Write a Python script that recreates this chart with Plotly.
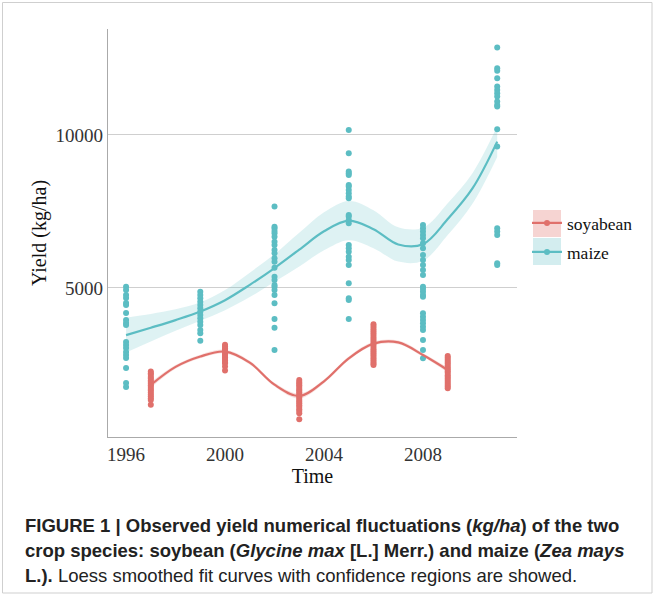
import plotly.graph_objects as go

# ---------------- data ----------------
maize_years = [1996, 1999, 2002, 2005, 2008, 2011]
maize_values = [
    [5042, 4935, 4771, 4673, 4510, 4444, 4183, 3954, 3856, 3791, 3235, 3137, 3039, 2908, 2810, 2712, 2386, 1895, 1765],
    [4879, 4771, 4663, 4552, 4444, 4337, 4226, 4118, 4010, 3899, 3791, 3627, 3519, 3278],
    [7657, 7003, 6951, 6863, 6788, 6676, 6513, 6405, 6242, 6134, 5971, 5859, 5663, 5369, 5261, 5098, 5042, 4935, 4771, 4500, 3987, 3703, 2974],
    [10163, 9402, 8801, 8748, 8693, 8366, 8311, 8203, 8095, 7984, 7931, 7386, 7330, 7222, 7114, 6405, 6297, 6186, 6023, 5915, 5752, 5154, 4663, 4608, 3987],
    [7059, 6951, 6840, 6732, 6624, 6461, 6297, 6078, 5915, 5752, 5588, 5425, 5042, 4967, 4879, 4771, 4716, 4173, 4062, 3954, 3846, 3735, 3627, 3301, 2974, 2703],
    [12853, 12180, 12092, 11853, 11578, 11471, 11363, 11252, 11088, 10980, 10925, 10186, 9618, 6951, 6840, 6732, 5807, 5750],
]
soy_years = [1997, 2000, 2003, 2006, 2009]
soy_values = [
    [2270, 2210, 2160, 2090, 2040, 1980, 1930, 1870, 1820, 1760, 1700, 1650, 1580, 1520, 1460, 1400, 1340, 1180],
    [3140, 3090, 3030, 2980, 2930, 2880, 2830, 2780, 2730, 2680, 2630, 2570, 2540, 2430, 2300],
    [1990, 1930, 1880, 1820, 1760, 1700, 1650, 1590, 1530, 1470, 1410, 1350, 1290, 1230, 1170, 1110, 1040, 980, 910, 710],
    [3810, 3740, 3670, 3600, 3540, 3470, 3400, 3330, 3270, 3200, 3140, 3070, 3000, 2930, 2870, 2800, 2730, 2660, 2600, 2530, 2480],
    [2780, 2720, 2650, 2590, 2530, 2470, 2400, 2340, 2280, 2220, 2150, 2090, 2030, 1970, 1900, 1840, 1780, 1720],
]

# loess fit curves and confidence bands
maize_fit_x = [1996, 1997, 1998, 1999, 2000, 2001, 2002, 2003, 2004, 2005, 2006, 2007, 2008, 2009, 2010, 2011]
maize_fit = [3460, 3700, 3950, 4230, 4600, 5100, 5650, 6250, 6850, 7200, 6920, 6420, 6430, 7250, 8250, 9780]
maize_hi = [4030, 4150, 4300, 4530, 4930, 5500, 6100, 6800, 7470, 7840, 7540, 6980, 6970, 7770, 8750, 10280]
maize_lo = [2890, 3250, 3600, 3930, 4270, 4700, 5200, 5700, 6230, 6560, 6300, 5860, 5890, 6730, 7750, 9280]

soy_fit_x = [1997, 1998, 1999, 2000, 2001, 2002, 2003, 2004, 2005, 2006, 2007, 2008, 2009]
soy_fit = [1830, 2420, 2760, 2920, 2560, 1840, 1470, 1950, 2700, 3180, 3220, 2810, 2320]
soy_hi = [1920, 2480, 2820, 2980, 2620, 1900, 1550, 2010, 2760, 3240, 3280, 2870, 2400]
soy_lo = [1740, 2360, 2700, 2860, 2500, 1780, 1390, 1890, 2640, 3120, 3160, 2750, 2240]

x_ticks = [1996, 2000, 2004, 2008]
y_ticks = [5000, 10000]
y_tick_labels = ["5000", "10000"]

SOY = "#E0706B"
MAIZE = "#5CBDC3"
SOY_BAND = "rgba(224,112,107,0.22)"
MAIZE_BAND = "rgba(92,189,195,0.20)"

fig = go.Figure()


def add_band(xs, lo, hi, color):
    fig.add_trace(go.Scatter(x=xs, y=hi, mode="lines", line=dict(width=0, shape="spline"),
                             showlegend=False, hoverinfo="skip"))
    fig.add_trace(go.Scatter(x=xs, y=lo, mode="lines", line=dict(width=0, shape="spline"),
                             fill="tonexty", fillcolor=color, showlegend=False, hoverinfo="skip"))


def add_points(years, values, color):
    xs, ys = [], []
    for yr, vals in zip(years, values):
        xs += [yr] * len(vals)
        ys += vals
    fig.add_trace(go.Scatter(x=xs, y=ys, mode="markers", marker=dict(color=color, size=6),
                             showlegend=False))


add_band(maize_fit_x, maize_lo, maize_hi, MAIZE_BAND)
add_band(soy_fit_x, soy_lo, soy_hi, SOY_BAND)
add_points(maize_years, maize_values, MAIZE)
add_points(soy_years, soy_values, SOY)
fig.add_trace(go.Scatter(x=maize_fit_x, y=maize_fit, mode="lines",
                         line=dict(color=MAIZE, width=2.2, shape="spline"), showlegend=False))
fig.add_trace(go.Scatter(x=soy_fit_x, y=soy_fit, mode="lines",
                         line=dict(color=SOY, width=2.2, shape="spline"), showlegend=False))

# legend entries (one legend per entry for exact spacing)
fig.add_trace(go.Scatter(x=[None], y=[None], mode="lines+markers", name="soyabean", legend="legend",
                         line=dict(color=SOY, width=2.2), marker=dict(color=SOY, size=6)))
fig.add_trace(go.Scatter(x=[None], y=[None], mode="lines+markers", name="maize", legend="legend2",
                         line=dict(color=MAIZE, width=2.2), marker=dict(color=MAIZE, size=6)))

L, R, T, B = 108, 517, 29, 437
W, H = 655, 596


def px(x):
    return (x - L) / (R - L)


def py(y):
    return (B - y) / (B - T)


shapes = [
    dict(type="rect", xref="paper", yref="paper", x0=px(533), x1=px(561), y0=py(237), y1=py(210),
         fillcolor="rgba(224,112,107,0.30)", line=dict(width=0), layer="below"),
    dict(type="rect", xref="paper", yref="paper", x0=px(533), x1=px(561), y0=py(265), y1=py(238),
         fillcolor="rgba(92,189,195,0.27)", line=dict(width=0), layer="below"),
    dict(type="rect", xref="paper", yref="paper", x0=px(2.5), x1=px(652), y0=py(593), y1=py(2.5),
         fillcolor="rgba(0,0,0,0)", line=dict(width=1, color="#cfcfcf")),
]

cap_font = dict(family="Liberation Sans, Arial", size=18.5, color="#222")
annotations = [
    dict(xref="paper", yref="paper", x=px(23), y=py(525), xanchor="left", yanchor="middle", showarrow=False,
         text="<b>FIGURE 1 | Observed yield numerical fluctuations (<i>kg/ha</i>) of the two</b>", font=cap_font),
    dict(xref="paper", yref="paper", x=px(23), y=py(550), xanchor="left", yanchor="middle", showarrow=False,
         text="<b>crop species: soybean (<i>Glycine max</i> [L.] Merr.) and maize (<i>Zea mays</i></b>", font=cap_font),
    dict(xref="paper", yref="paper", x=px(23), y=py(575), xanchor="left", yanchor="middle", showarrow=False,
         text="<b>L.).</b> Loess smoothed fit curves with confidence regions are showed.", font=cap_font),
]

serif = "Liberation Serif, Times New Roman, serif"
leg_font = dict(size=17.5, family=serif, color="#111")
fig.update_layout(
    width=W, height=H,
    margin=dict(l=L, r=W - R, t=T, b=H - B),
    paper_bgcolor="white", plot_bgcolor="white",
    font=dict(family=serif, color="#333"),
    xaxis=dict(range=[1995.27, 2011.8], tickvals=x_ticks, ticks="", showgrid=False, zeroline=False,
               showline=True, linecolor="#aaa", linewidth=1.2, tickfont=dict(size=19, family=serif, color="#333"),
               title=dict(text="Time", font=dict(size=20, family=serif, color="#111"), standoff=0)),
    yaxis=dict(range=[130, 13460], tickvals=y_ticks, ticktext=y_tick_labels, ticks="", showgrid=True,
               gridcolor="#cfcfcf", gridwidth=1, zeroline=False, showline=True, linecolor="#aaa", linewidth=1.2,
               tickfont=dict(size=19, family=serif, color="#333"),
               title=dict(text="Yield (kg/ha)", font=dict(size=20, family=serif, color="#111"), standoff=3)),
    legend=dict(x=px(527), y=py(223), xanchor="left", yanchor="middle", bgcolor="rgba(0,0,0,0)",
                font=leg_font, itemwidth=30),
    legend2=dict(x=px(527), y=py(252), xanchor="left", yanchor="middle", bgcolor="rgba(0,0,0,0)",
                 font=leg_font, itemwidth=30),
    shapes=shapes,
    annotations=annotations,
)

fig.write_html("out.html", config={"displayModeBar": False},
               post_script="document.body.style.margin='0';")
